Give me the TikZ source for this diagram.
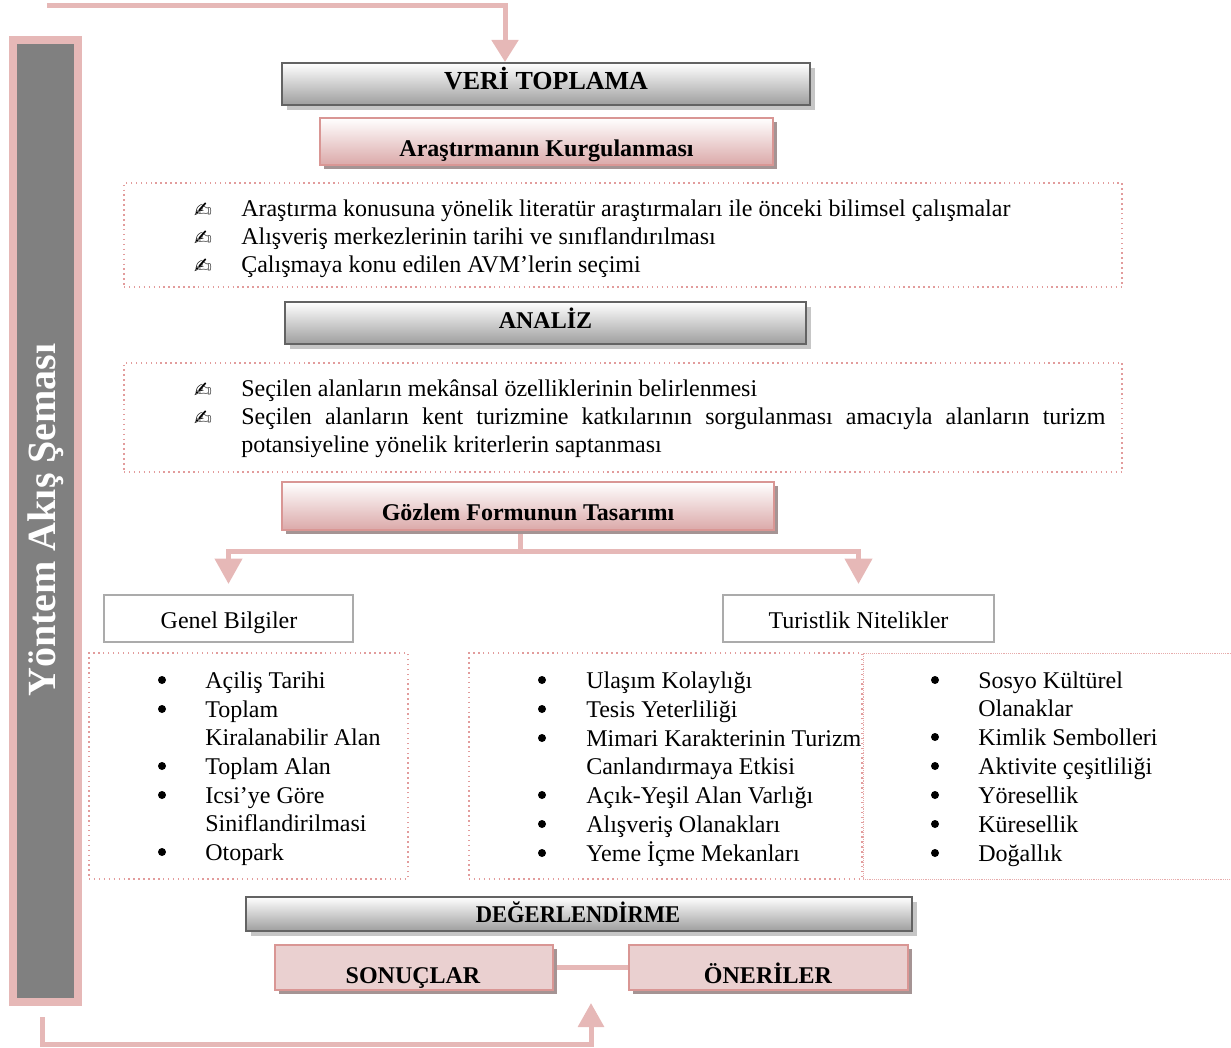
\documentclass[tikz,border=0pt]{standalone}
\usepackage{fontspec}
\setmainfont{Liberation Serif}
\newfontfamily\symfont{DejaVu Sans}
\usetikzlibrary{arrows.meta,shadows,calc,backgrounds}
\definecolor{arrowpink}{HTML}{E6B8B7}
\definecolor{bargray}{HTML}{808080}
\definecolor{hdrborder}{HTML}{636363}
\definecolor{hdrbottom}{HTML}{9E9E9E}
\definecolor{hdrshadow}{HTML}{C6C6C6}
\definecolor{pinkborder}{HTML}{D99694}
\definecolor{pinkbottom}{HTML}{DBA9A9}
\definecolor{pinkshadow}{HTML}{A59494}
\definecolor{pinkfill}{HTML}{EAD0D0}
\definecolor{boxgray}{HTML}{ABABAB}
\definecolor{dotpink}{HTML}{E29C9C}
\tikzset{
  hdr/.style={draw=hdrborder, line width=1.5pt, top color=white, bottom color=hdrbottom,
    drop shadow={shadow xshift=3.5pt,shadow yshift=-3.5pt,fill=hdrshadow,opacity=1}, inner sep=0pt},
  pinkhdr/.style={draw=pinkborder, line width=1.5pt, top color=white, bottom color=pinkbottom,
    drop shadow={shadow xshift=3pt,shadow yshift=-3pt,fill=pinkshadow,opacity=1}, inner sep=0pt},
  pinkflat/.style={draw=pinkborder, line width=1.5pt, fill=pinkfill,
    drop shadow={shadow xshift=3pt,shadow yshift=-3pt,fill=pinkshadow,opacity=1}, inner sep=0pt},
  plainbox/.style={draw=boxgray, line width=1.5pt, fill=white, inner sep=0pt},
  dotbox/.style={draw=dotpink, line width=1.1pt, dash pattern=on 1.1pt off 2.6pt, inner sep=0pt},
  thindot/.style={draw=dotpink!85, line width=0.6pt, dash pattern=on 0.6pt off 0.8pt, inner sep=0pt},
  conn/.style={draw=arrowpink, line width=3.75pt},
  body/.style={font=\fontsize{18}{21.5}\selectfont, inner sep=0pt, text height=12.6pt, text depth=3.6pt, yshift=-2pt},
  boldtxt/.style={body, font=\fontsize{18}{21.5}\selectfont\bfseries},
  bul/.style={circle, fill=black, inner sep=0pt, minimum size=6pt},
  pen/.style={font=\symfont\fontsize{16}{16}\selectfont, inner sep=0pt, yshift=-1.5pt},
}
\begin{document}
\begin{tikzpicture}[x=0.75pt,y=-0.75pt]
\useasboundingbox (0,0) rectangle (1231,1048);

% left bar
\node[draw=arrowpink, line width=6pt, fill=bargray, minimum width=48.2pt, minimum height=721.7pt, inner sep=0pt] (bar) at (45.6,521.1) {};
\node[rotate=90, text=white, font=\fontsize{30}{30}\selectfont\bfseries, inner sep=0pt] (title) at (46,520) {Yöntem Akış Şeması};

% coordinates for free connector ends
\coordinate (topstart) at (47,6);
\coordinate (toptip) at (505,62);
\coordinate (botstart) at (42.5,1017);
\coordinate (botcorner) at (42.5,1044);
\coordinate (bottip) at (591,1003);
\coordinate (gfb) at (520,530);
\coordinate (br) at (520,551);

% boxes
\node[hdr, minimum width=396pt, minimum height=31.5pt] (vt) at (546,84) {};
\node[boldtxt, font=\fontsize{19.5}{21.5}\selectfont\bfseries] (vtt) at (546,81) {VERİ TOPLAMA};

\node[pinkhdr, minimum width=339.75pt, minimum height=35.25pt] (ak) at (546.5,141.5) {};
\node[boldtxt] (akt) at (546.5,148) {Araştırmanın Kurgulanması};

\node[dotbox, minimum width=748.5pt, minimum height=78pt] (db1) at (623,235) {};
\foreach \n/\y/\t in {1/208/Araştırma konusuna yönelik literatür araştırmaları ile önceki bilimsel çalışmalar,
                      2/236/Alışveriş merkezlerinin tarihi ve sınıflandırılması,
                      3/264/Çalışmaya konu edilen AVM’lerin seçimi}{
  \node[pen] (p1\n) at (203,\y) {✍};
  \node[body, anchor=west] (t1\n) at (241,\y) {\t};
}

\node[hdr, minimum width=390.75pt, minimum height=31.5pt] (an) at (545.5,323) {};
\node[boldtxt] (ant) at (545.5,320) {ANALİZ};

\node[dotbox, minimum width=748.5pt, minimum height=81.75pt] (db2) at (623,417.5) {};
\node[pen] (p21) at (203,388) {✍};
\node[body, anchor=west] (t21) at (241,388) {Seçilen alanların mekânsal özelliklerinin belirlenmesi};
\node[pen] (p22) at (203,416) {✍};
\node[body, anchor=west] (t22) at (241,416) {\makebox[648pt][s]{Seçilen alanların kent turizmine katkılarının sorgulanması amacıyla alanların turizm}};
\node[body, anchor=west] (t23) at (241,444) {potansiyeline yönelik kriterlerin saptanması};

\node[pinkhdr, minimum width=369pt, minimum height=36pt] (gf) at (528,506) {};
\node[boldtxt] (gft) at (528,512) {Gözlem Formunun Tasarımı};

\node[plainbox, minimum width=186.75pt, minimum height=35.25pt] (gb) at (228.5,618.5) {};
\node[body] (gbt) at (229,620) {Genel Bilgiler};
\node[plainbox, minimum width=203.25pt, minimum height=35.25pt] (tn) at (858.5,618.5) {};
\node[body] (tnt) at (858.5,620) {Turistlik Nitelikler};

% branch connectors
\begin{scope}[on background layer]
\draw[conn, -{Triangle[width=20pt,length=19pt]}, shorten >=7.5pt] (gfb) -- (br) -| (gb.north);
\draw[conn, -{Triangle[width=20pt,length=19pt]}, shorten >=7.5pt] (gfb) -- (br) -| (tn.north);
\end{scope}

% lists
\node[dotbox, minimum width=239.25pt, minimum height=169.5pt] (dl) at (248.5,766) {};
\node[dotbox, minimum width=294.75pt, minimum height=169.5pt] (dm) at (665.5,766) {};
\node[thindot, minimum width=285pt, minimum height=169.5pt] (dr) at (1053,766) {};

\foreach \n/\y/\t in {1/680/Açiliş Tarihi, 2/709/Toplam, 3/737/Kiralanabilir Alan, 4/766/Toplam Alan,
                      5/795/Icsi’ye Göre, 6/823/Siniflandirilmasi, 7/852/Otopark}{
  \node[body, anchor=west] (lt\n) at (205,\y) {\t};
}
\foreach \n/\y in {1/680, 2/709, 4/766, 5/795, 7/852}{
  \node[bul] (lb\n) at (162,\y) {};
}

\foreach \n/\y/\t in {1/680/Ulaşım Kolaylığı, 2/709/Tesis Yeterliliği, 3/738/Mimari Karakterinin Turizm,
                      4/766/Canlandırmaya Etkisi, 5/795/Açık-Yeşil Alan Varlığı, 6/824/Alışveriş Olanakları,
                      7/853/Yeme İçme Mekanları}{
  \node[body, anchor=west] (mt\n) at (586,\y) {\t};
}
\foreach \n/\y in {1/680, 2/709, 3/738, 5/795, 6/824, 7/853}{
  \node[bul] (mb\n) at (542,\y) {};
}

\foreach \n/\y/\t in {1/680/Sosyo Kültürel, 2/708/Olanaklar, 3/737/Kimlik Sembolleri,
                      4/766/Aktivite çeşitliliği, 5/795/Yöresellik, 6/824/Küresellik, 7/853/Doğallık}{
  \node[body, anchor=west] (rt\n) at (978,\y) {\t};
}
\foreach \n/\y in {1/680, 3/737, 4/766, 5/795, 6/824, 7/853}{
  \node[bul] (rb\n) at (935,\y) {};
}

% evaluation
\node[hdr, minimum width=499.5pt, minimum height=25.5pt] (de) at (579,914) {};
\node[boldtxt] (det) at (578,914) {\scalebox{0.94}[1]{DEĞERLENDİRME}};

\node[pinkflat, minimum width=208.5pt, minimum height=33.75pt] (so) at (414,967.5) {};
\node[boldtxt] (sot) at (413,975) {SONUÇLAR};
\node[pinkflat, minimum width=209.25pt, minimum height=33.75pt] (on) at (768.5,967.5) {};
\node[boldtxt] (ont) at (768,975) {ÖNERİLER};
\begin{scope}[on background layer]
\draw[conn] (so.center) -- (on.center);
\end{scope}

% loop arrows
\draw[conn, -{Triangle[width=19.5pt,length=16.5pt]}] (topstart) -| (toptip);
\draw[conn, -{Triangle[width=19pt,length=18pt]}] (botstart) -- (botcorner) -| (bottip);
\end{tikzpicture}
\end{document}
